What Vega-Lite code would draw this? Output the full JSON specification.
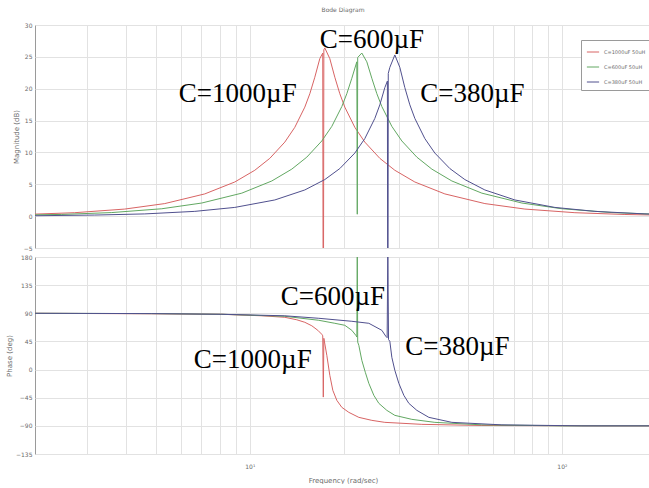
{
  "$schema": "https://vega.github.io/schema/vega-lite/v6.json",
  "background": "white",
  "padding": {"left": 5, "top": 6, "right": 0, "bottom": 0},
  "spacing": 1,
  "config": {
    "view": {"stroke": "#9a9a9a", "strokeWidth": 1},
    "axis": {"labelFont": "DejaVu Sans", "labelFontSize": 6, "labelColor": "#6a6a6a", "titleFont": "DejaVu Sans", "titleFontSize": 7, "titleColor": "#6a6a6a", "titleFontWeight": "normal", "gridColor": "#e2e2e2", "gridWidth": 1, "domain": false, "ticks": false, "labelOverlap": false}
  },
  "resolve": {"legend": {"color": "independent"}},
  "datasets": {
    "mag": [
      {"s": "C=1000uF 50uH", "f": 2, "v": 0.3}, {"s": "C=1000uF 50uH", "f": 2.748, "v": 0.54}, {"s": "C=1000uF 50uH", "f": 3.975, "v": 1.11}, {"s": "C=1000uF 50uH", "f": 5.34, "v": 1.97}, {"s": "C=1000uF 50uH", "f": 7.174, "v": 3.49}, {"s": "C=1000uF 50uH", "f": 8.952, "v": 5.36}, {"s": "C=1000uF 50uH", "f": 10.376, "v": 7.2}, {"s": "C=1000uF 50uH", "f": 11.591, "v": 9.07}, {"s": "C=1000uF 50uH", "f": 12.947, "v": 11.62}, {"s": "C=1000uF 50uH", "f": 13.939, "v": 13.94}, {"s": "C=1000uF 50uH", "f": 15.007, "v": 17.11}, {"s": "C=1000uF 50uH", "f": 15.571, "v": 19.21}, {"s": "C=1000uF 50uH", "f": 16.156, "v": 21.8}, {"s": "C=1000uF 50uH", "f": 16.763, "v": 24.72}, {"s": "C=1000uF 50uH", "f": 17.13, "v": 25.6}, {"s": "C=1000uF 50uH", "f": 17.2, "v": -30}, {"s": "C=1000uF 50uH", "f": 17.27, "v": 26.1}, {"s": "C=1000uF 50uH", "f": 17.393, "v": 26.4}, {"s": "C=1000uF 50uH", "f": 18.047, "v": 24.72}, {"s": "C=1000uF 50uH", "f": 18.726, "v": 21.8}, {"s": "C=1000uF 50uH", "f": 19.429, "v": 19.21}, {"s": "C=1000uF 50uH", "f": 20.16, "v": 17.11}, {"s": "C=1000uF 50uH", "f": 21.704, "v": 13.94}, {"s": "C=1000uF 50uH", "f": 23.366, "v": 11.62}, {"s": "C=1000uF 50uH", "f": 26.102, "v": 9.07}, {"s": "C=1000uF 50uH", "f": 29.156, "v": 7.2}, {"s": "C=1000uF 50uH", "f": 33.794, "v": 5.36}, {"s": "C=1000uF 50uH", "f": 42.17, "v": 3.49}, {"s": "C=1000uF 50uH", "f": 56.651, "v": 1.97}, {"s": "C=1000uF 50uH", "f": 76.105, "v": 1.11}, {"s": "C=1000uF 50uH", "f": 110.07, "v": 0.54}, {"s": "C=1000uF 50uH", "f": 159.19, "v": 0.26}, {"s": "C=1000uF 50uH", "f": 200, "v": 0.17},
      {"s": "C=600uF 50uH", "f": 2, "v": 0.2}, {"s": "C=600uF 50uH", "f": 2.497, "v": 0.27}, {"s": "C=600uF 50uH", "f": 3.612, "v": 0.56}, {"s": "C=600uF 50uH", "f": 5.223, "v": 1.16}, {"s": "C=600uF 50uH", "f": 7.017, "v": 2.06}, {"s": "C=600uF 50uH", "f": 9.427, "v": 3.61}, {"s": "C=600uF 50uH", "f": 11.763, "v": 5.52}, {"s": "C=600uF 50uH", "f": 13.634, "v": 7.38}, {"s": "C=600uF 50uH", "f": 15.23, "v": 9.26}, {"s": "C=600uF 50uH", "f": 17.012, "v": 11.8}, {"s": "C=600uF 50uH", "f": 18.316, "v": 14.09}, {"s": "C=600uF 50uH", "f": 19.718, "v": 17.2}, {"s": "C=600uF 50uH", "f": 20.46, "v": 19.22}, {"s": "C=600uF 50uH", "f": 21.229, "v": 21.64}, {"s": "C=600uF 50uH", "f": 22.027, "v": 24.22}, {"s": "C=600uF 50uH", "f": 22.1, "v": 0.3}, {"s": "C=600uF 50uH", "f": 22.17, "v": 24.9}, {"s": "C=600uF 50uH", "f": 22.855, "v": 25.6}, {"s": "C=600uF 50uH", "f": 23.714, "v": 24.22}, {"s": "C=600uF 50uH", "f": 24.605, "v": 21.64}, {"s": "C=600uF 50uH", "f": 25.53, "v": 19.22}, {"s": "C=600uF 50uH", "f": 26.49, "v": 17.2}, {"s": "C=600uF 50uH", "f": 28.518, "v": 14.09}, {"s": "C=600uF 50uH", "f": 30.703, "v": 11.8}, {"s": "C=600uF 50uH", "f": 34.298, "v": 9.26}, {"s": "C=600uF 50uH", "f": 38.312, "v": 7.38}, {"s": "C=600uF 50uH", "f": 44.406, "v": 5.52}, {"s": "C=600uF 50uH", "f": 55.41, "v": 3.61}, {"s": "C=600uF 50uH", "f": 74.437, "v": 2.06}, {"s": "C=600uF 50uH", "f": 100, "v": 1.16}, {"s": "C=600uF 50uH", "f": 144.63, "v": 0.56}, {"s": "C=600uF 50uH", "f": 200, "v": 0.3},
      {"s": "C=380uF 50uH", "f": 2, "v": 0.06}, {"s": "C=380uF 50uH", "f": 3.186, "v": 0.17}, {"s": "C=380uF 50uH", "f": 4.608, "v": 0.35}, {"s": "C=380uF 50uH", "f": 6.664, "v": 0.75}, {"s": "C=380uF 50uH", "f": 8.952, "v": 1.37}, {"s": "C=380uF 50uH", "f": 12.026, "v": 2.54}, {"s": "C=380uF 50uH", "f": 15.007, "v": 4.11}, {"s": "C=380uF 50uH", "f": 17.393, "v": 5.74}, {"s": "C=380uF 50uH", "f": 19.429, "v": 7.47}, {"s": "C=380uF 50uH", "f": 21.704, "v": 9.9}, {"s": "C=380uF 50uH", "f": 23.366, "v": 12.17}, {"s": "C=380uF 50uH", "f": 25.156, "v": 15.34}, {"s": "C=380uF 50uH", "f": 26.102, "v": 17.47}, {"s": "C=380uF 50uH", "f": 27.082, "v": 20.17}, {"s": "C=380uF 50uH", "f": 27.6, "v": 21.2}, {"s": "C=380uF 50uH", "f": 27.69, "v": -30}, {"s": "C=380uF 50uH", "f": 27.78, "v": 22.4}, {"s": "C=380uF 50uH", "f": 28.101, "v": 23.35}, {"s": "C=380uF 50uH", "f": 29.156, "v": 25.3}, {"s": "C=380uF 50uH", "f": 30.253, "v": 23.35}, {"s": "C=380uF 50uH", "f": 31.39, "v": 20.17}, {"s": "C=380uF 50uH", "f": 32.57, "v": 17.47}, {"s": "C=380uF 50uH", "f": 33.794, "v": 15.34}, {"s": "C=380uF 50uH", "f": 36.384, "v": 12.17}, {"s": "C=380uF 50uH", "f": 39.17, "v": 9.9}, {"s": "C=380uF 50uH", "f": 43.755, "v": 7.47}, {"s": "C=380uF 50uH", "f": 48.877, "v": 5.74}, {"s": "C=380uF 50uH", "f": 56.651, "v": 4.11}, {"s": "C=380uF 50uH", "f": 70.691, "v": 2.54}, {"s": "C=380uF 50uH", "f": 94.964, "v": 1.37}, {"s": "C=380uF 50uH", "f": 127.57, "v": 0.75}, {"s": "C=380uF 50uH", "f": 184.52, "v": 0.35}, {"s": "C=380uF 50uH", "f": 200, "v": 0.31}
    ],
    "phase": [
      {"s": "C=1000uF 50uH", "f": 2, "v": 90}, {"s": "C=1000uF 50uH", "f": 4.852, "v": 89.2}, {"s": "C=1000uF 50uH", "f": 8.133, "v": 88.4}, {"s": "C=1000uF 50uH", "f": 10.926, "v": 86}, {"s": "C=1000uF 50uH", "f": 12.947, "v": 83.6}, {"s": "C=1000uF 50uH", "f": 14.146, "v": 79.6}, {"s": "C=1000uF 50uH", "f": 15.007, "v": 75.6}, {"s": "C=1000uF 50uH", "f": 15.803, "v": 70}, {"s": "C=1000uF 50uH", "f": 16.518, "v": 62.8}, {"s": "C=1000uF 50uH", "f": 17.012, "v": 56.4}, {"s": "C=1000uF 50uH", "f": 17.13, "v": 54}, {"s": "C=1000uF 50uH", "f": 17.2, "v": -44}, {"s": "C=1000uF 50uH", "f": 17.27, "v": 50}, {"s": "C=1000uF 50uH", "f": 17.652, "v": 22.8}, {"s": "C=1000uF 50uH", "f": 18.047, "v": -9.2}, {"s": "C=1000uF 50uH", "f": 18.452, "v": -33.2}, {"s": "C=1000uF 50uH", "f": 19.004, "v": -49.2}, {"s": "C=1000uF 50uH", "f": 19.718, "v": -60.4}, {"s": "C=1000uF 50uH", "f": 20.764, "v": -68.4}, {"s": "C=1000uF 50uH", "f": 22.354, "v": -76.4}, {"s": "C=1000uF 50uH", "f": 24.605, "v": -81.2}, {"s": "C=1000uF 50uH", "f": 27.082, "v": -84.4}, {"s": "C=1000uF 50uH", "f": 35.586, "v": -87.6}, {"s": "C=1000uF 50uH", "f": 55.41, "v": -89.4}, {"s": "C=1000uF 50uH", "f": 134.34, "v": -90}, {"s": "C=1000uF 50uH", "f": 200, "v": -90},
      {"s": "C=600uF 50uH", "f": 2, "v": 90}, {"s": "C=600uF 50uH", "f": 4.852, "v": 89.5}, {"s": "C=600uF 50uH", "f": 8.133, "v": 88.4}, {"s": "C=600uF 50uH", "f": 12.947, "v": 85.2}, {"s": "C=600uF 50uH", "f": 16.64, "v": 78.8}, {"s": "C=600uF 50uH", "f": 18.726, "v": 74}, {"s": "C=600uF 50uH", "f": 20.157, "v": 70.8}, {"s": "C=600uF 50uH", "f": 21.229, "v": 62.8}, {"s": "C=600uF 50uH", "f": 21.865, "v": 54.8}, {"s": "C=600uF 50uH", "f": 22.03, "v": 52}, {"s": "C=600uF 50uH", "f": 22.1, "v": 200}, {"s": "C=600uF 50uH", "f": 22.17, "v": 44}, {"s": "C=600uF 50uH", "f": 22.354, "v": 38.8}, {"s": "C=600uF 50uH", "f": 22.855, "v": 14.8}, {"s": "C=600uF 50uH", "f": 23.452, "v": -4.4}, {"s": "C=600uF 50uH", "f": 24.066, "v": -22}, {"s": "C=600uF 50uH", "f": 24.972, "v": -41.2}, {"s": "C=600uF 50uH", "f": 25.91, "v": -54}, {"s": "C=600uF 50uH", "f": 27.485, "v": -65.2}, {"s": "C=600uF 50uH", "f": 29.156, "v": -73.2}, {"s": "C=600uF 50uH", "f": 33.054, "v": -79.6}, {"s": "C=600uF 50uH", "f": 39.17, "v": -84.4}, {"s": "C=600uF 50uH", "f": 55.41, "v": -88.4}, {"s": "C=600uF 50uH", "f": 100, "v": -90}, {"s": "C=600uF 50uH", "f": 200, "v": -90},
      {"s": "C=380uF 50uH", "f": 2, "v": 90}, {"s": "C=380uF 50uH", "f": 4.852, "v": 89.5}, {"s": "C=380uF 50uH", "f": 8.133, "v": 88.4}, {"s": "C=380uF 50uH", "f": 12.947, "v": 86}, {"s": "C=380uF 50uH", "f": 16.64, "v": 82}, {"s": "C=380uF 50uH", "f": 21.229, "v": 77.2}, {"s": "C=380uF 50uH", "f": 24.066, "v": 74}, {"s": "C=380uF 50uH", "f": 26.49, "v": 62.8}, {"s": "C=380uF 50uH", "f": 27.283, "v": 53.2}, {"s": "C=380uF 50uH", "f": 27.55, "v": 51}, {"s": "C=380uF 50uH", "f": 27.69, "v": 200}, {"s": "C=380uF 50uH", "f": 27.83, "v": 48}, {"s": "C=380uF 50uH", "f": 28.101, "v": 45.2}, {"s": "C=380uF 50uH", "f": 28.518, "v": 19.6}, {"s": "C=380uF 50uH", "f": 29.156, "v": -1.2}, {"s": "C=380uF 50uH", "f": 30.03, "v": -22}, {"s": "C=380uF 50uH", "f": 31.16, "v": -41.2}, {"s": "C=380uF 50uH", "f": 32.331, "v": -54}, {"s": "C=380uF 50uH", "f": 34.298, "v": -65.2}, {"s": "C=380uF 50uH", "f": 37.473, "v": -76.4}, {"s": "C=380uF 50uH", "f": 44.406, "v": -84.4}, {"s": "C=380uF 50uH", "f": 64.223, "v": -88.4}, {"s": "C=380uF 50uH", "f": 115.91, "v": -90}, {"s": "C=380uF 50uH", "f": 200, "v": -90}
    ],
    "notesTop": [
      {"t": "C=1000µF", "f": 9.15, "v": 17.9},
      {"t": "C=600µF", "f": 24.6, "v": 26.35},
      {"t": "C=380µF", "f": 51.66, "v": 17.9}
    ],
    "notesBottom": [
      {"t": "C=600µF", "f": 18.45, "v": 103.3},
      {"t": "C=1000µF", "f": 10.22, "v": 2},
      {"t": "C=380µF", "f": 46.25, "v": 23.3}
    ]
  },
  "vconcat": [
    {
      "width": 616,
      "height": 223,
      "title": {"text": "Bode Diagram", "fontSize": 6, "font": "DejaVu Sans", "fontWeight": "normal", "color": "#6a6a6a", "offset": 9, "anchor": "middle"},
      "layer": [
        {
          "data": {"name": "mag"},
          "mark": {"type": "line", "strokeWidth": 1, "clip": true},
          "encoding": {
            "x": {"field": "f", "type": "quantitative", "scale": {"type": "log", "domain": [2.05, 193], "nice": false}, "axis": {"values": [2, 3, 4, 5, 6, 7, 8, 9, 10, 20, 30, 40, 50, 60, 70, 80, 90, 100], "labels": false, "title": null}},
            "y": {"field": "v", "type": "quantitative", "scale": {"domain": [-5, 30], "nice": false}, "axis": {"values": [-5, 0, 5, 10, 15, 20, 25, 30], "labelOverlap": false, "labelBound": false, "labelFlush": false, "title": "Magnitude (dB)", "labelPadding": 3, "titlePadding": 4}},
            "color": {"field": "s", "type": "nominal", "scale": {"domain": ["C=1000uF 50uH", "C=600uF 50uH", "C=380uF 50uH"], "range": ["#d86464", "#62a862", "#50508e"]}, "legend": {"orient": "none", "legendX": 546, "legendY": 15, "title": null, "fillColor": "white", "strokeColor": "#9a9a9a", "padding": 5, "symbolType": "stroke", "symbolSize": 150, "symbolStrokeWidth": 1, "labelFontSize": 5, "labelFont": "DejaVu Sans", "labelColor": "#6a6a6a", "rowPadding": 5}}
          }
        },
        {
          "data": {"name": "notesTop"},
          "mark": {"type": "text", "font": "Liberation Serif", "fontSize": 27, "baseline": "alphabetic", "align": "center", "color": "black"},
          "encoding": {
            "x": {"field": "f", "type": "quantitative", "axis": {"values": [2, 3, 4, 5, 6, 7, 8, 9, 10, 20, 30, 40, 50, 60, 70, 80, 90, 100], "labels": false, "title": null}},
            "y": {"field": "v", "type": "quantitative", "axis": {"values": [-5, 0, 5, 10, 15, 20, 25, 30], "labelOverlap": false, "labelBound": false, "labelFlush": false, "title": "Magnitude (dB)", "labelPadding": 3, "titlePadding": 4}},
            "text": {"field": "t"}
          }
        }
      ]
    },
    {
      "width": 616,
      "height": 197,
      "layer": [
        {
          "data": {"name": "phase"},
          "mark": {"type": "line", "strokeWidth": 1, "clip": true},
          "encoding": {
            "x": {"field": "f", "type": "quantitative", "scale": {"type": "log", "domain": [2.05, 193], "nice": false}, "axis": {"values": [2, 3, 4, 5, 6, 7, 8, 9, 10, 20, 30, 40, 50, 60, 70, 80, 90, 100], "labelExpr": "datum.value == 10 ? '10¹' : (datum.value == 100 ? '10²' : '')", "labelPadding": 9, "labelFlush": false, "title": "Frequency (rad/sec)", "titlePadding": 7}},
            "y": {"field": "v", "type": "quantitative", "scale": {"domain": [-135, 180], "nice": false}, "axis": {"values": [-135, -90, -45, 0, 45, 90, 135, 180], "labelOverlap": false, "labelBound": false, "labelFlush": false, "title": "Phase (deg)", "labelPadding": 3, "titlePadding": 3}},
            "color": {"field": "s", "type": "nominal", "scale": {"domain": ["C=1000uF 50uH", "C=600uF 50uH", "C=380uF 50uH"], "range": ["#d86464", "#62a862", "#50508e"]}, "legend": null}
          }
        },
        {
          "data": {"name": "notesBottom"},
          "mark": {"type": "text", "font": "Liberation Serif", "fontSize": 27, "baseline": "alphabetic", "align": "center", "color": "black"},
          "encoding": {
            "x": {"field": "f", "type": "quantitative", "axis": {"values": [2, 3, 4, 5, 6, 7, 8, 9, 10, 20, 30, 40, 50, 60, 70, 80, 90, 100], "labelExpr": "datum.value == 10 ? '10¹' : (datum.value == 100 ? '10²' : '')", "labelPadding": 9, "labelFlush": false, "title": "Frequency (rad/sec)", "titlePadding": 7}},
            "y": {"field": "v", "type": "quantitative", "axis": {"values": [-135, -90, -45, 0, 45, 90, 135, 180], "labelOverlap": false, "labelBound": false, "labelFlush": false, "title": "Phase (deg)", "labelPadding": 3, "titlePadding": 3}},
            "text": {"field": "t"}
          }
        }
      ]
    }
  ]
}
